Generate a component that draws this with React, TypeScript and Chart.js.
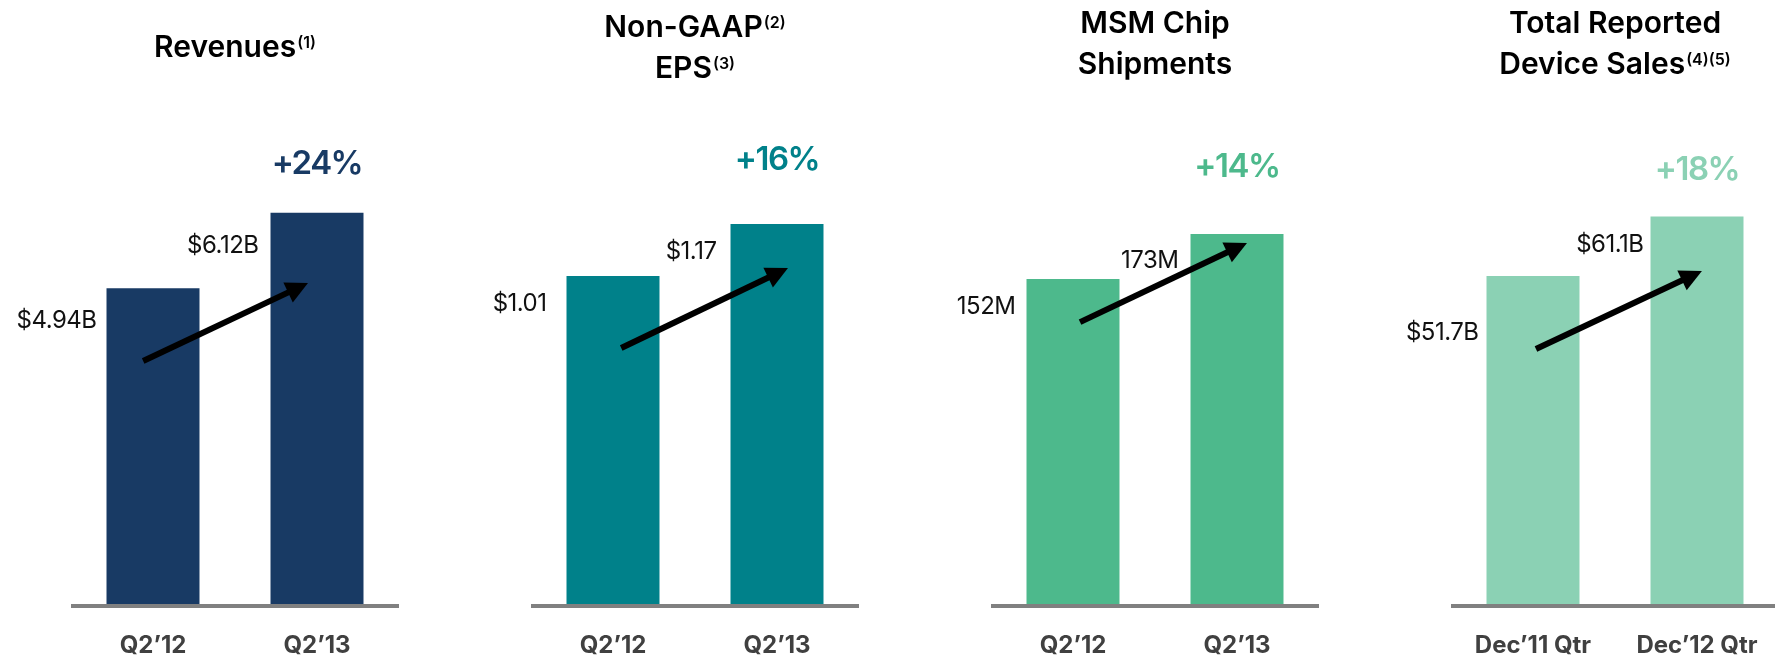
import React, { useEffect, useRef } from "react";
import { Chart, registerables } from "chart.js";
Chart.register(...registerables);

// ---------- data ----------
const revenueCategories = ["Q2’12", "Q2’13"];
const revenueValues = [4.94, 6.12];
const revenueLabels = ["$4.94B", "$6.12B"];
const revenueChange = "+24%";
const revenueArrow = [[-0.06, 3.8], [0.945, 5.02]];

const epsCategories = ["Q2’12", "Q2’13"];
const epsValues = [1.01, 1.17];
const epsLabels = ["$1.01", "$1.17"];
const epsChange = "+16%";
const epsArrow = [[0.05, 0.788], [1.067, 1.034]];

const msmCategories = ["Q2’12", "Q2’13"];
const msmValues = [152, 173];
const msmLabels = ["152M", "173M"];
const msmChange = "+14%";
const msmArrow = [[0.043, 131.8], [1.061, 168.8]];

const deviceCategories = ["Dec’11 Qtr", "Dec’12 Qtr"];
const deviceValues = [51.7, 61.1];
const deviceLabels = ["$51.7B", "$61.1B"];
const deviceChange = "+18%";
const deviceArrow = [[0.018, 40.2], [1.03, 52.5]];

const FONT = "Inter, 'Noto Sans', sans-serif";

type Panel = {
  title: { main: string; sup?: string }[];
  titleY: number[];
  categories: string[];
  values: number[];
  labels: string[];
  change: string;
  changeY: number;
  arrow: number[][];
  color: string;
  yMax: number;
  labelOffsets: number[];
  labelGaps: number[];
};

const panels: Panel[] = [
  {
    title: [{ main: "Revenues", sup: "(1)" }],
    titleY: [46],
    categories: revenueCategories,
    values: revenueValues,
    labels: revenueLabels,
    change: revenueChange,
    changeY: 161,
    arrow: revenueArrow,
    color: "#183a64",
    yMax: 7.57,
    labelOffsets: [31, 32],
    labelGaps: [10, 12],
  },
  {
    title: [{ main: "Non-GAAP", sup: "(2)" }, { main: "EPS", sup: "(3)" }],
    titleY: [26, 67],
    categories: epsCategories,
    values: epsValues,
    labels: epsLabels,
    change: epsChange,
    changeY: 157,
    arrow: epsArrow,
    color: "#00818a",
    yMax: 1.49,
    labelOffsets: [27, 27],
    labelGaps: [20, 14],
  },
  {
    title: [{ main: "MSM Chip" }, { main: "Shipments" }],
    titleY: [22, 63],
    categories: msmCategories,
    values: msmValues,
    labels: msmLabels,
    change: msmChange,
    changeY: 164,
    arrow: msmArrow,
    color: "#4db98c",
    yMax: 226.3,
    labelOffsets: [27, 26],
    labelGaps: [11, 12],
  },
  {
    title: [{ main: "Total Reported" }, { main: "Device Sales", sup: "(4)(5)" }],
    titleY: [22, 63],
    categories: deviceCategories,
    values: deviceValues,
    labels: deviceLabels,
    change: deviceChange,
    changeY: 167,
    arrow: deviceArrow,
    color: "#8bd1b4",
    yMax: 76.3,
    labelOffsets: [55, 27],
    labelGaps: [8, 7],
  },
];

const PANEL_W = 460;
const CANVAS_H = 700;

function PanelChart({ p, index }: { p: Panel; index: number }) {
  const ref = useRef<HTMLCanvasElement | null>(null);
  useEffect(() => {
    if (!ref.current) return;
    const overlay = {
      id: "overlay" + index,
      afterDatasetsDraw(chart: any) {
        const ctx = chart.ctx as CanvasRenderingContext2D & { letterSpacing?: string };
        const { left, right, bottom } = chart.chartArea;
        const cx = (left + right) / 2;
        ctx.save();
        // base line
        ctx.fillStyle = "#808080";
        ctx.fillRect(left, bottom, right - left, 4);

        const meta = chart.getDatasetMeta(0);
        // value labels
        ctx.fillStyle = "#111111";
        ctx.font = `400 24px ${FONT}`;
        ctx.textAlign = "right";
        ctx.textBaseline = "alphabetic";
        ctx.letterSpacing = "-0.5px";
        meta.data.forEach((bar: any, i: number) => {
          const bl = bar.x - bar.width / 2;
          ctx.fillText(p.labels[i], bl - p.labelGaps[i], bar.y + p.labelOffsets[i] + 8.5);
        });

        // change label
        const last = meta.data[meta.data.length - 1];
        ctx.fillStyle = p.color;
        ctx.font = `600 33px ${FONT}`;
        ctx.letterSpacing = "-1.5px";
        ctx.textAlign = "center";
        ctx.fillText(p.change, last.x, p.changeY + 12.5);
        ctx.letterSpacing = "0px";

        // titles
        p.title.forEach((ln, i) => {
          ctx.font = `600 30px ${FONT}`;
          const w1 = ctx.measureText(ln.main).width;
          ctx.font = `600 16px ${FONT}`;
          const w2 = ln.sup ? ctx.measureText(ln.sup).width + 1 : 0;
          const x0 = cx - (w1 + w2) / 2;
          const base = p.titleY[i] + 11;
          ctx.fillStyle = "#000000";
          ctx.textAlign = "left";
          ctx.font = `600 30px ${FONT}`;
          ctx.fillText(ln.main, x0, base);
          if (ln.sup) {
            ctx.font = `600 16px ${FONT}`;
            ctx.fillText(ln.sup, x0 + w1 + 1, base - 9);
          }
        });

        // arrow
        const xs = chart.scales.x;
        const ys = chart.scales.y;
        const x1 = xs.getPixelForValue(p.arrow[0][0]);
        const y1 = ys.getPixelForValue(p.arrow[0][1]);
        const x2 = xs.getPixelForValue(p.arrow[1][0]);
        const y2 = ys.getPixelForValue(p.arrow[1][1]);
        const ang = Math.atan2(y2 - y1, x2 - x1);
        const hl = 22;
        const hw = 11;
        const bx = x2 - hl * Math.cos(ang);
        const by = y2 - hl * Math.sin(ang);
        ctx.strokeStyle = "#000000";
        ctx.lineWidth = 6;
        ctx.lineCap = "butt";
        ctx.beginPath();
        ctx.moveTo(x1, y1);
        ctx.lineTo(bx + 2 * Math.cos(ang), by + 2 * Math.sin(ang));
        ctx.stroke();
        ctx.fillStyle = "#000000";
        ctx.beginPath();
        ctx.moveTo(x2, y2);
        ctx.lineTo(bx - hw * Math.sin(ang), by + hw * Math.cos(ang));
        ctx.lineTo(bx + hw * Math.sin(ang), by - hw * Math.cos(ang));
        ctx.closePath();
        ctx.fill();
        ctx.restore();
      },
    };
    const chart = new Chart(ref.current, {
      type: "bar",
      data: {
        labels: p.categories,
        datasets: [
          {
            data: p.values,
            backgroundColor: p.color,
            borderWidth: 0,
            barPercentage: 0.567,
            categoryPercentage: 1,
          },
        ],
      },
      options: {
        responsive: false,
        animation: false,
        devicePixelRatio: 1,
        layout: { padding: { left: 71, right: 61, top: 120, bottom: 13.2 } },
        plugins: {
          legend: { display: false },
          tooltip: { enabled: false },
          title: { display: false },
        },
        scales: {
          x: {
            grid: { display: false, drawTicks: false },
            border: { display: false },
            ticks: {
              color: "#404040",
              font: { family: FONT, size: 24, weight: "bold" },
              padding: 27,
              maxRotation: 0,
              autoSkip: false,
            },
          },
          y: { display: false, min: 0, max: p.yMax },
        },
      },
      plugins: [overlay],
    } as any);
    return () => chart.destroy();
  }, [p, index]);
  return (
    <canvas
      ref={ref}
      width={PANEL_W}
      height={CANVAS_H}
      style={{ position: "absolute", left: index * PANEL_W, top: 0, width: PANEL_W, height: CANVAS_H }}
    />
  );
}

export default function App() {
  return (
    <div
      style={{
        position: "fixed",
        left: 0,
        top: 0,
        width: 1775,
        height: 658,
        overflow: "hidden",
        background: "#ffffff",
      }}
    >
      {panels.map((p, i) => (
        <PanelChart key={i} p={p} index={i} />
      ))}
    </div>
  );
}
